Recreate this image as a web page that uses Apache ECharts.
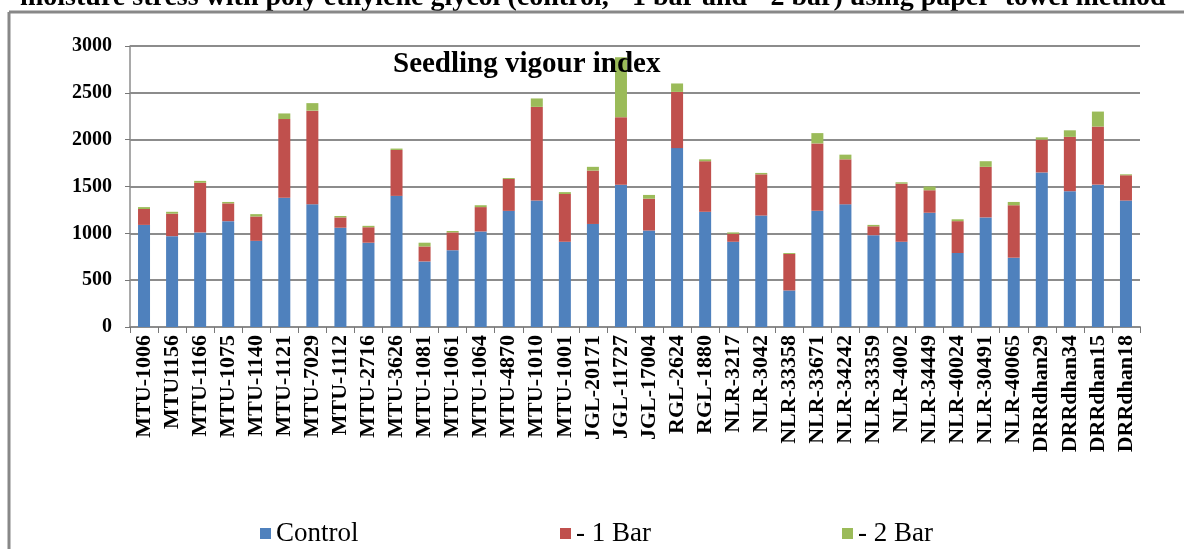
<!DOCTYPE html>
<html>
<head>
<meta charset="utf-8">
<script src="https://cdn.jsdelivr.net/npm/echarts@6/dist/echarts.min.js"></script>
<style>
  html, body { margin: 0; padding: 0; background: #fff; }
  #chart { width: 1184px; height: 549px; }
</style>
</head>
<body>
<div id="chart"></div>
<script>
const categories = [
  'MTU-1006', 'MTU1156', 'MTU-1166', 'MTU-1075', 'MTU-1140', 'MTU-1121', 'MTU-7029',
  'MTU-1112', 'MTU-2716', 'MTU-3626', 'MTU-1081', 'MTU-1061', 'MTU-1064', 'MTU-4870',
  'MTU-1010', 'MTU-1001', 'JGL-20171', 'JGL-11727', 'JGL-17004', 'RGL-2624', 'RGL-1880',
  'NLR-3217', 'NLR-3042', 'NLR-33358', 'NLR-33671', 'NLR-34242', 'NLR-33359', 'NLR-4002',
  'NLR-34449', 'NLR-40024', 'NLR-30491', 'NLR-40065', 'DRRdhan29', 'DRRdhan34', 'DRRdhan15',
  'DRRdhan18'
]

// stacked parts
const control = [
  1090, 970, 1010, 1130, 920, 1380, 1310, 1060, 900, 1400, 700, 820, 1020, 1240,
  1350, 910, 1100, 1520, 1030, 1910, 1230, 910, 1190, 390, 1240, 1310, 980, 910,
  1220, 790, 1170, 740, 1650, 1450, 1520, 1350
]
const minus1Bar = [
  170, 240, 530, 190, 260, 840, 1000, 110, 165, 490, 160, 190, 260, 340,
  1000, 510, 570, 720, 340, 600, 540, 85, 440, 390, 720, 480, 95, 620,
  240, 340, 540, 560, 350, 580, 620, 270
]
const minus2Bar = [
  20, 20, 20, 15, 25, 60, 80, 15, 15, 15, 40, 15, 20, 10,
  90, 20, 40, 640, 40, 90, 20, 15, 15, 10, 110, 50, 15, 15,
  40, 20, 60, 35, 25, 70, 160, 10
]
const yTicks = [0, 500, 1000, 1500, 2000, 2500, 3000]
const seriesNames = ['Control', '- 1 Bar', '- 2 Bar']

const serif = '"Liberation Serif", "DejaVu Serif", serif'
const chart = echarts.init(document.getElementById('chart'))

const barSeries = (name, data, color) => ({
  name,
  type: 'bar',
  stack: 'svi',
  barWidth: 12,
  data,
  itemStyle: { color }
})

// one legend per item so each can sit where the original has it
const legendAt = (name, left) => ({
  data: [name],
  left,
  top: 515,
  itemWidth: 11,
  itemHeight: 11,
  icon: 'rect',
  textStyle: { fontFamily: serif, fontSize: 27, color: '#000' }
})

chart.setOption({
  animation: false,
  textStyle: { fontFamily: serif },
  title: {
    text: 'Seedling vigour index',
    left: 388,
    top: 45,
    textStyle: { fontFamily: serif, fontSize: 29, fontWeight: 'bold', color: '#000' }
  },
  grid: { left: 130, right: 44, top: 46, bottom: 222 },
  legend: [
    legendAt(seriesNames[0], 255),
    legendAt(seriesNames[1], 555),
    legendAt(seriesNames[2], 837)
  ],
  xAxis: {
    type: 'category',
    data: categories,
    axisLine: { lineStyle: { color: '#8c8c8c', width: 2 } },
    axisTick: { show: true, length: 6, lineStyle: { color: '#777' } },
    axisLabel: {
      rotate: 90,
      interval: 0,
      margin: 8,
      fontFamily: serif,
      fontSize: 22,
      fontWeight: 'bold',
      color: '#000'
    }
  },
  yAxis: {
    type: 'value',
    min: yTicks[0],
    max: yTicks[yTicks.length - 1],
    interval: 500,
    axisLine: { show: true, lineStyle: { color: '#8c8c8c', width: 1.5 } },
    axisTick: { show: true, length: 5, lineStyle: { color: '#777' } },
    axisLabel: {
      margin: 18,
      fontFamily: serif,
      fontSize: 20,
      fontWeight: 'bold',
      color: '#000',
      formatter: (v) => String(v)
    },
    splitLine: { lineStyle: { color: '#8c8c8c', width: 2 } }
  },
  series: [
    barSeries(seriesNames[0], control, '#4f81bd'),
    barSeries(seriesNames[1], minus1Bar, '#c0504d'),
    barSeries(seriesNames[2], minus2Bar, '#9bbb59')
  ],
  graphic: [
    {
      type: 'text',
      left: 20,
      top: -16,
      style: {
        text: 'moisture stress with poly ethylene glycol (control,  -1 bar and  -2 bar) using paper  towel method',
        font: 'bold 28px ' + serif,
        fill: '#000'
      }
    },
    {
      type: 'line',
      shape: { x1: 9, y1: 12, x2: 1184, y2: 12 },
      style: { stroke: '#888', lineWidth: 3 }
    },
    {
      type: 'line',
      shape: { x1: 9, y1: 12, x2: 9, y2: 549 },
      style: { stroke: '#888', lineWidth: 3 }
    }
  ]
})
</script>
</body>
</html>
